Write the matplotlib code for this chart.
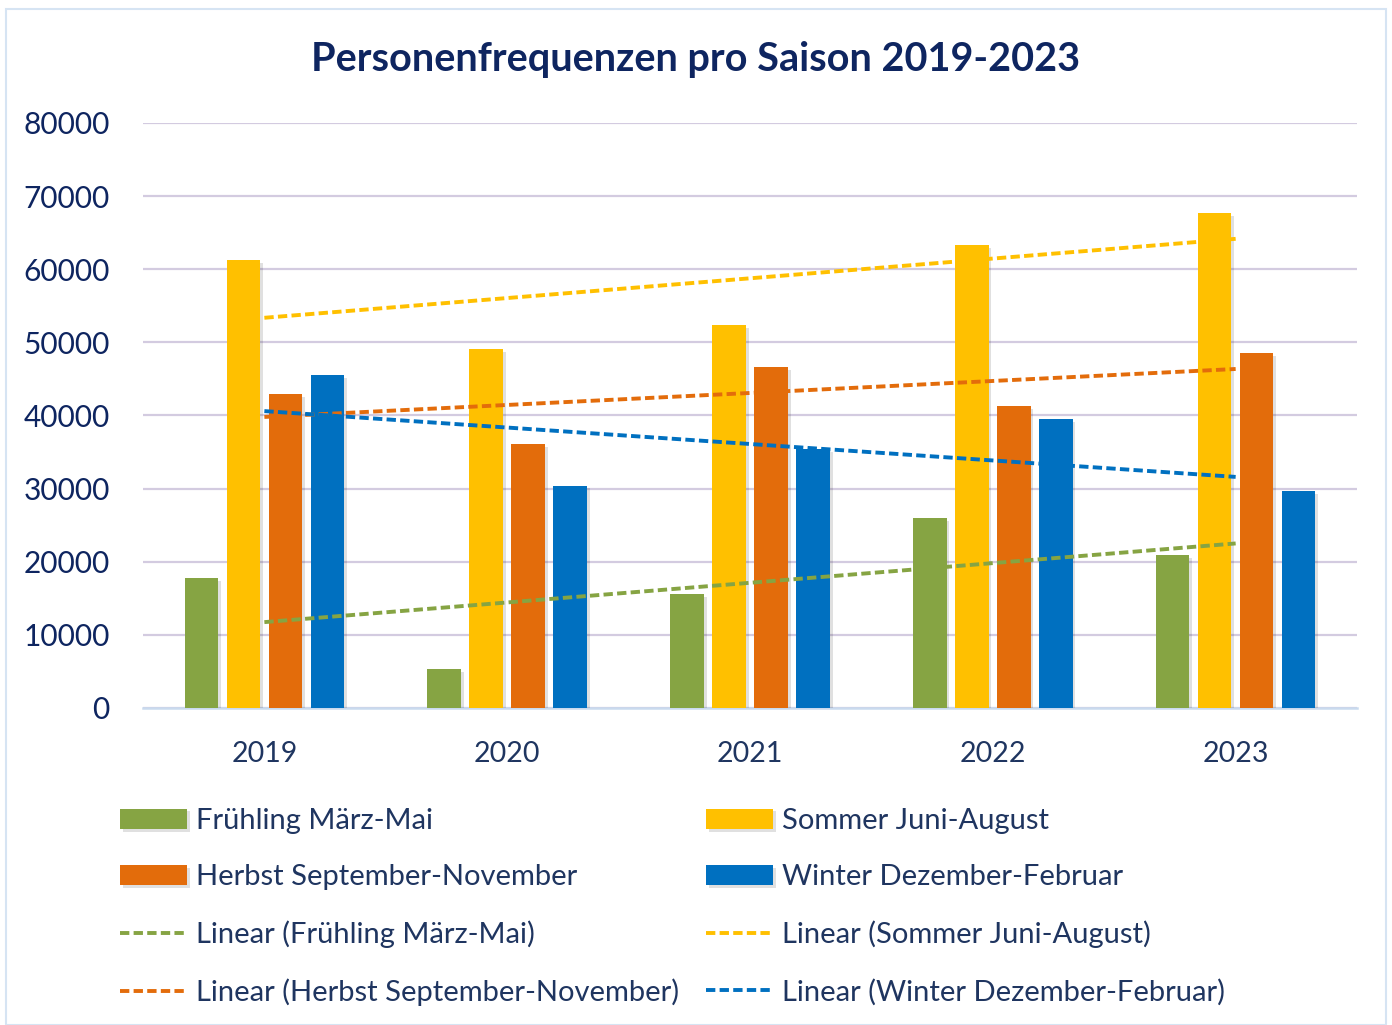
import numpy as np
import matplotlib.pyplot as plt
import matplotlib.patheffects as pe
from matplotlib.patches import Rectangle

plt.rcParams['font.family'] = ['Lato', 'DejaVu Sans']

# data
years = ['2019', '2020', '2021', '2022', '2023']
fruehling = [17800, 5300, 15600, 26000, 20900]
sommer = [61300, 49100, 52400, 63300, 67700]
herbst = [42900, 36100, 46600, 41300, 48500]
winter = [45500, 30400, 35400, 39500, 29700]

labels = ['Frühling März-Mai', 'Sommer Juni-August',
          'Herbst September-November', 'Winter Dezember-Februar']
colors = ['#86a443', '#ffc000', '#e36c0b', '#0070c0']
series = [fruehling, sommer, herbst, winter]

navy = '#0e2560'
text_col = '#1f3560'

fig = plt.figure(figsize=(13.92, 10.25), dpi=100)
ax = fig.add_axes([0.1027, 0.3093, 0.8722, 0.5707])

x = np.arange(len(years))
shadow = [pe.SimplePatchShadow(offset=(2, -2), shadow_rgbFace='k', alpha=0.12), pe.Normal()]

bar_handles = []
for i, (vals, col) in enumerate(zip(series, colors)):
    b = ax.bar(x + (i - 1.5) * 0.173, vals, width=0.138, color=col, zorder=3)
    for p in b:
        p.set_path_effects(shadow)
    bar_handles.append(b)

# linear trend lines
trend_handles = []
for vals, col in zip(series, colors):
    k, d = np.polyfit(x, vals, 1)
    xs = np.array([x[0], x[-1]])
    ln, = ax.plot(xs, k * xs + d, color=col, lw=2.8, linestyle=(0, (2.4, 1.1)), zorder=4)
    trend_handles.append(ln)

ax.set_xlim(-0.5, 4.5)
ax.set_ylim(0, 80000)
ax.set_yticks(np.arange(0, 80001, 10000))
ax.set_xticks(x)
ax.set_xticklabels(years)
ax.yaxis.grid(True, color='#d3cbe0', lw=1.6, zorder=0)
ax.set_axisbelow(True)
for s in ['top', 'right', 'left']:
    ax.spines[s].set_visible(False)
ax.spines['bottom'].set_color('#c9daee')
ax.spines['bottom'].set_linewidth(1.8)
ax.tick_params(axis='y', length=0, pad=24, labelsize=21.5, labelcolor=navy)
ax.tick_params(axis='x', length=0, pad=24, labelsize=20.5, labelcolor=text_col)

fig.suptitle('Personenfrequenzen pro Saison 2019-2023', x=0.5, y=1 - 60 / 1025, va='center',
             fontsize=28.5, fontweight='bold', color=navy)

# legend in two fixed columns
lin_labels = ['Linear (' + l + ')' for l in labels]
leg_kw = dict(loc='upper left', frameon=False, fontsize=21, handlelength=2.3,
              handletextpad=0.3, labelspacing=1.04, borderpad=0, borderaxespad=0,
              labelcolor=text_col)
col1_h = [bar_handles[0], bar_handles[2], trend_handles[0], trend_handles[2]]
col1_l = [labels[0], labels[2], lin_labels[0], lin_labels[2]]
col2_h = [bar_handles[1], bar_handles[3], trend_handles[1], trend_handles[3]]
col2_l = [labels[1], labels[3], lin_labels[1], lin_labels[3]]
fig.legend(col1_h, col1_l, bbox_to_anchor=(120 / 1392, 1 - 808 / 1025), **leg_kw)
fig.legend(col2_h, col2_l, bbox_to_anchor=(706 / 1392, 1 - 808 / 1025), **leg_kw)

# light frame around the chart
fig.patches.append(Rectangle((6 / 1392, 0), 1380 / 1392, 1 - 9 / 1025, transform=fig.transFigure,
                             fill=False, edgecolor='#d6e4f3', lw=1.5))

plt.savefig('out.png', dpi=100)
